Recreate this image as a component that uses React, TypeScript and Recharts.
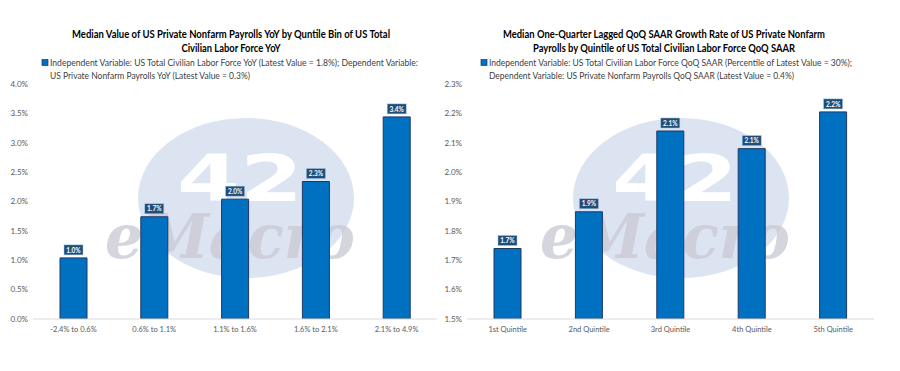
import { BarChart, Bar, XAxis, YAxis, LabelList } from 'recharts'

const binsYoY = ['-2.4% to 0.6%', '0.6% to 1.1%', '1.1% to 1.6%', '1.6% to 2.1%', '2.1% to 4.9%']
const medianYoY = [1.04, 1.74, 2.04, 2.34, 3.44]
const ticksYoY = [0, 0.5, 1, 1.5, 2, 2.5, 3, 3.5, 4]

const quintiles = ['1st Quintile', '2nd Quintile', '3rd Quintile', '4th Quintile', '5th Quintile']
const medianQoQ = [1.74, 1.865, 2.14, 2.08, 2.205]
const ticksQoQ = [1.5, 1.6, 1.7, 1.8, 1.9, 2.0, 2.1, 2.2, 2.3]

const FONT = 'Lato, "Open Sans", sans-serif'
const BAR = '#0070C0'
const BAR_EDGE = '#1F3864'

function ValueTag(props: any) {
  const { x, y, width, value } = props
  const cx = x + width / 2
  return (
    <g>
      <rect x={cx - 9.5} y={y - 13} width={19} height={10} fill="#1F4E79" stroke="#9DC3E6" strokeWidth={0.5} />
      <text x={cx} y={y - 5.3} textAnchor="middle" fill="#fff" fontSize={6.5} fontWeight={700} fontFamily={FONT}>
        {`${value.toFixed(1)}%`}
      </text>
    </g>
  )
}

// faint company logo behind the bars
function Watermark({ cx, w }: { cx: number; w: number }) {
  return (
    <svg width={w} height={371} style={{ position: 'absolute', left: 0, top: 0 }}>
      <ellipse cx={cx} cy={198} rx={108} ry={80} fill="#DCE3F1" />
      <text x={cx - 6} y={201} textAnchor="middle" fill="#fff" fontSize={64} fontWeight={900} fontFamily="'DejaVu Sans', sans-serif" textLength={126} lengthAdjust="spacingAndGlyphs">
        42
      </text>
      <text x={cx - 16} y={258} textAnchor="middle" fill="#CBCBD6" fontSize={62} fontStyle="italic" fontWeight={700} fontFamily="'DejaVu Serif', serif" textLength={250} lengthAdjust="spacingAndGlyphs" opacity={0.8}>
        eMacro
      </text>
    </svg>
  )
}

interface PanelProps {
  left: number
  width: number
  title: string[]
  titleW: number[]
  titleCx: number
  legend: string[]
  legendW: number[]
  legendX: number
  cats: string[]
  vals: number[]
  ticks: number[]
  domain: [number, number]
  yWidth: number
  marginRight: number
  markCx: number
}

function Panel(p: PanelProps) {
  const data = p.cats.map((c, i) => ({ cat: c, v: p.vals[i] }))
  return (
    <div style={{ position: 'absolute', left: p.left, top: 0, width: p.width, height: 371 }}>
      <Watermark cx={p.markCx} w={p.width} />
      <div style={{ position: 'absolute', left: 0, top: 0 }}>
        <BarChart width={p.width} height={371} data={data} margin={{ top: 84, right: p.marginRight, left: 0, bottom: 32 }}>
          <YAxis
            width={p.yWidth}
            domain={p.domain}
            ticks={p.ticks}
            tickFormatter={(v: number) => `${v.toFixed(1)}%`}
            axisLine={false}
            tickLine={false}
            tickSize={0}
            tickMargin={5}
            tick={{ fontSize: 8, fill: '#595959', fontFamily: FONT }}
            allowDataOverflow
          />
          <XAxis
            dataKey="cat"
            height={20}
            axisLine={{ stroke: '#D9D9D9' }}
            tickLine={false}
            tickSize={0}
            tickMargin={8}
            interval={0}
            tick={{ fontSize: 7.5, fill: '#595959', fontFamily: FONT }}
          />
          <Bar dataKey="v" fill={BAR} stroke={BAR_EDGE} strokeWidth={1} barSize={27} isAnimationActive={false}>
            <LabelList dataKey="v" content={ValueTag} />
          </Bar>
        </BarChart>
      </div>
      <svg width={p.width} height={90} style={{ position: 'absolute', left: 0, top: 0 }}>
        {p.title.map((t, i) => (
          <text key={i} x={p.titleCx} y={38 + i * 14} textAnchor="middle" fontSize={10.5} fontWeight={700} fill="#000" fontFamily={FONT} textLength={p.titleW[i]} lengthAdjust="spacingAndGlyphs">
            {t}
          </text>
        ))}
        <rect x={p.legendX} y={59.5} width={6} height={6} fill={BAR} stroke={BAR_EDGE} strokeWidth={0.7} />
        {p.legend.map((t, i) => (
          <text key={i} x={p.legendX + 8} y={66 + i * 13} fontSize={8.8} fill="#404040" fontFamily={FONT} textLength={p.legendW[i]} lengthAdjust="spacingAndGlyphs">
            {t}
          </text>
        ))}
      </svg>
    </div>
  )
}

export default function App() {
  return (
    <div style={{ position: 'absolute', left: 0, top: 0, width: 900, height: 371, background: '#fff', overflow: 'hidden' }}>
      <Panel
        left={0}
        width={445}
        title={['Median Value of US Private Nonfarm Payrolls YoY by Quntile Bin of US Total', 'Civilian Labor Force YoY']}
        titleW={[318, 99]}
        titleCx={231}
        legend={[
          'Independent Variable: US Total Civilian Labor Force YoY (Latest Value = 1.8%); Dependent Variable:',
          'US Private Nonfarm Payrolls YoY (Latest Value = 0.3%)',
        ]}
        legendW={[368, 200]}
        legendX={42}
        cats={binsYoY}
        vals={medianYoY}
        ticks={ticksYoY}
        domain={[0, 4]}
        yWidth={33}
        marginRight={8}
        markCx={246}
      />
      <Panel
        left={440}
        width={460}
        title={['Median One-Quarter Lagged QoQ SAAR Growth Rate of US Private Nonfarm', 'Payrolls by Quintile of US Total Civilian Labor Force QoQ SAAR']}
        titleW={[322, 262]}
        titleCx={224}
        legend={[
          'Independent Variable: US Total Civilian Labor Force QoQ SAAR (Percentile of Latest Value = 30%);',
          'Dependent Variable: US Private Nonfarm Payrolls QoQ SAAR (Latest Value = 0.4%)',
        ]}
        legendW={[363, 305]}
        legendX={41}
        cats={quintiles}
        vals={medianQoQ}
        ticks={ticksQoQ}
        domain={[1.5, 2.3]}
        yWidth={27}
        marginRight={26}
        markCx={241}
      />
    </div>
  )
}
